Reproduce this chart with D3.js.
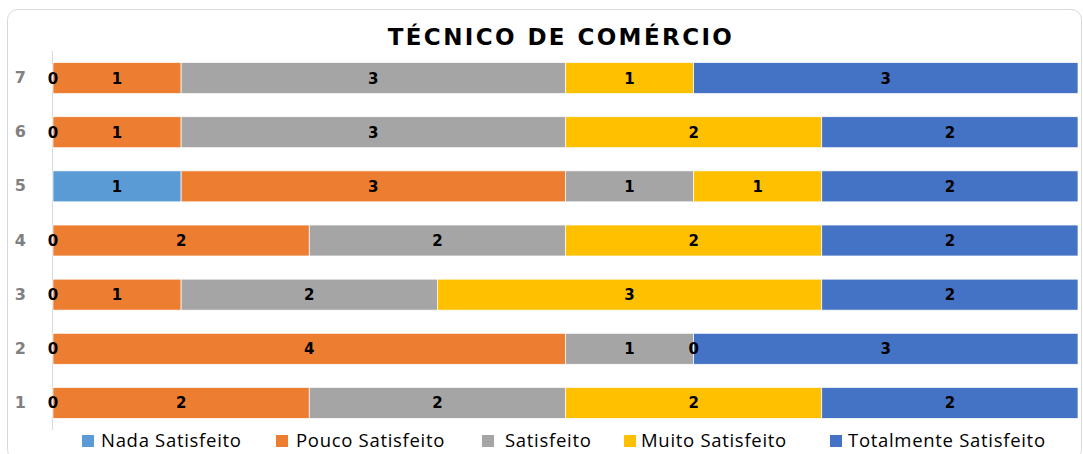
<!DOCTYPE html>
<html>
<head>
<meta charset="utf-8">
<script src="https://cdn.jsdelivr.net/npm/d3@7"></script>
<style>
  body { margin: 0; background: #fff; }
  svg { display: block; }
</style>
</head>
<body>
<svg id="chart"></svg>
<script>
// rows, bottom to top
const categories = ['1', '2', '3', '4', '5', '6', '7'];
const seriesNames = ['Nada Satisfeito', 'Pouco Satisfeito', 'Satisfeito', 'Muito Satisfeito', 'Totalmente Satisfeito'];
const nada = [0, 0, 0, 0, 1, 0, 0];
const pouco = [2, 4, 1, 2, 3, 1, 1];
const satisfeito = [2, 1, 2, 2, 1, 3, 3];
const muito = [2, 0, 3, 2, 1, 2, 1];
const totalmente = [2, 3, 2, 2, 2, 2, 3];
const colors = ['#5B9BD5', '#ED7D31', '#A5A5A5', '#FFC000', '#4472C4'];

const width = 1083;
const height = 454;
const margin = { top: 51, right: 5, bottom: 24, left: 53 };

const svg = d3.select('#chart')
    .attr('width', width)
    .attr('height', height);

// chart frame
svg.append('rect')
    .attr('x', 7.5)
    .attr('y', 9.5)
    .attr('width', 1074)
    .attr('height', 450)
    .attr('rx', 10)
    .attr('fill', '#fff')
    .attr('stroke', '#d9d9d9');

svg.append('text')
    .attr('x', 561)
    .attr('y', 45)
    .attr('text-anchor', 'middle')
    .style('font-family', 'DejaVu Sans')
    .style('font-weight', 'bold')
    .style('font-size', '23px')
    .style('letter-spacing', '2.4px')
    .text('TÉCNICO DE COMÉRCIO');

const table = categories.map((c, i) => ({
  cat: c,
  'Nada Satisfeito': nada[i],
  'Pouco Satisfeito': pouco[i],
  'Satisfeito': satisfeito[i],
  'Muito Satisfeito': muito[i],
  'Totalmente Satisfeito': totalmente[i]
}));

const layers = d3.stack().keys(seriesNames)(table);

const xScale = d3.scaleLinear()
    .domain([0, 8])
    .range([margin.left, 1078]);

const yScale = d3.scaleBand()
    .domain(categories.slice().reverse())
    .range([margin.top, height - margin.bottom])
    .paddingInner(0.428)
    .paddingOuter(0.214);

// vertical axis line
svg.append('line')
    .attr('x1', margin.left - 0.5)
    .attr('x2', margin.left - 0.5)
    .attr('y1', margin.top)
    .attr('y2', height - margin.bottom)
    .attr('stroke', '#d9d9d9');

const yAxis = svg.append('g')
    .attr('transform', 'translate(26,0)')
    .call(d3.axisLeft(yScale).tickSize(0).tickPadding(0));
yAxis.select('.domain').remove();
yAxis.selectAll('text')
    .style('font-family', 'DejaVu Sans')
    .style('font-weight', 'bold')
    .style('font-size', '16px')
    .attr('fill', '#808080');

const groups = svg.selectAll('.layer')
    .data(layers)
    .enter()
    .append('g')
    .attr('class', 'layer')
    .attr('fill', (d, i) => colors[i]);

groups.selectAll('rect')
    .data((d) => d)
    .enter()
    .append('rect')
    .attr('x', (d) => xScale(d[0]))
    .attr('y', (d) => yScale(d.data.cat))
    .attr('width', (d) => xScale(d[1]) - xScale(d[0]))
    .attr('height', yScale.bandwidth())
    .attr('stroke', '#fff')
    .attr('stroke-width', 0.7);

// labels on top of all bars; Excel keeps zero labels only for some series
const showZero = ['Nada Satisfeito', 'Muito Satisfeito'];
const labels = svg.append('g');
layers.forEach((layer) => {
  labels.selectAll(null)
      .data(layer.filter((d) => d[1] - d[0] > 0 || showZero.includes(layer.key)))
      .enter()
      .append('text')
      .attr('x', (d) => (xScale(d[0]) + xScale(d[1])) / 2)
      .attr('y', (d) => yScale(d.data.cat) + yScale.bandwidth() / 2 + 5.5)
      .attr('text-anchor', 'middle')
      .attr('fill', '#000')
      .style('font-family', 'DejaVu Sans')
      .style('font-weight', 'bold')
      .style('font-size', '15px')
      .text((d) => d[1] - d[0]);
});

// legend
const legendX = [82, 276, 482, 624, 830];
const legendTextX = [101, 296, 505, 641, 848];
const legend = svg.append('g');
legend.selectAll('rect')
    .data(seriesNames)
    .enter()
    .append('rect')
    .attr('x', (d, i) => legendX[i])
    .attr('y', 435)
    .attr('width', 12)
    .attr('height', 12)
    .attr('fill', (d, i) => colors[i]);

legend.selectAll('text')
    .data(seriesNames)
    .enter()
    .append('text')
    .attr('x', (d, i) => legendTextX[i])
    .attr('y', 447)
    .style('font-family', 'Open Sans')
    .style('font-size', '18.5px')
    .style('letter-spacing', '0.7px')
    .attr('fill', '#000')
    .text((d) => d);
</script>
</body>
</html>
